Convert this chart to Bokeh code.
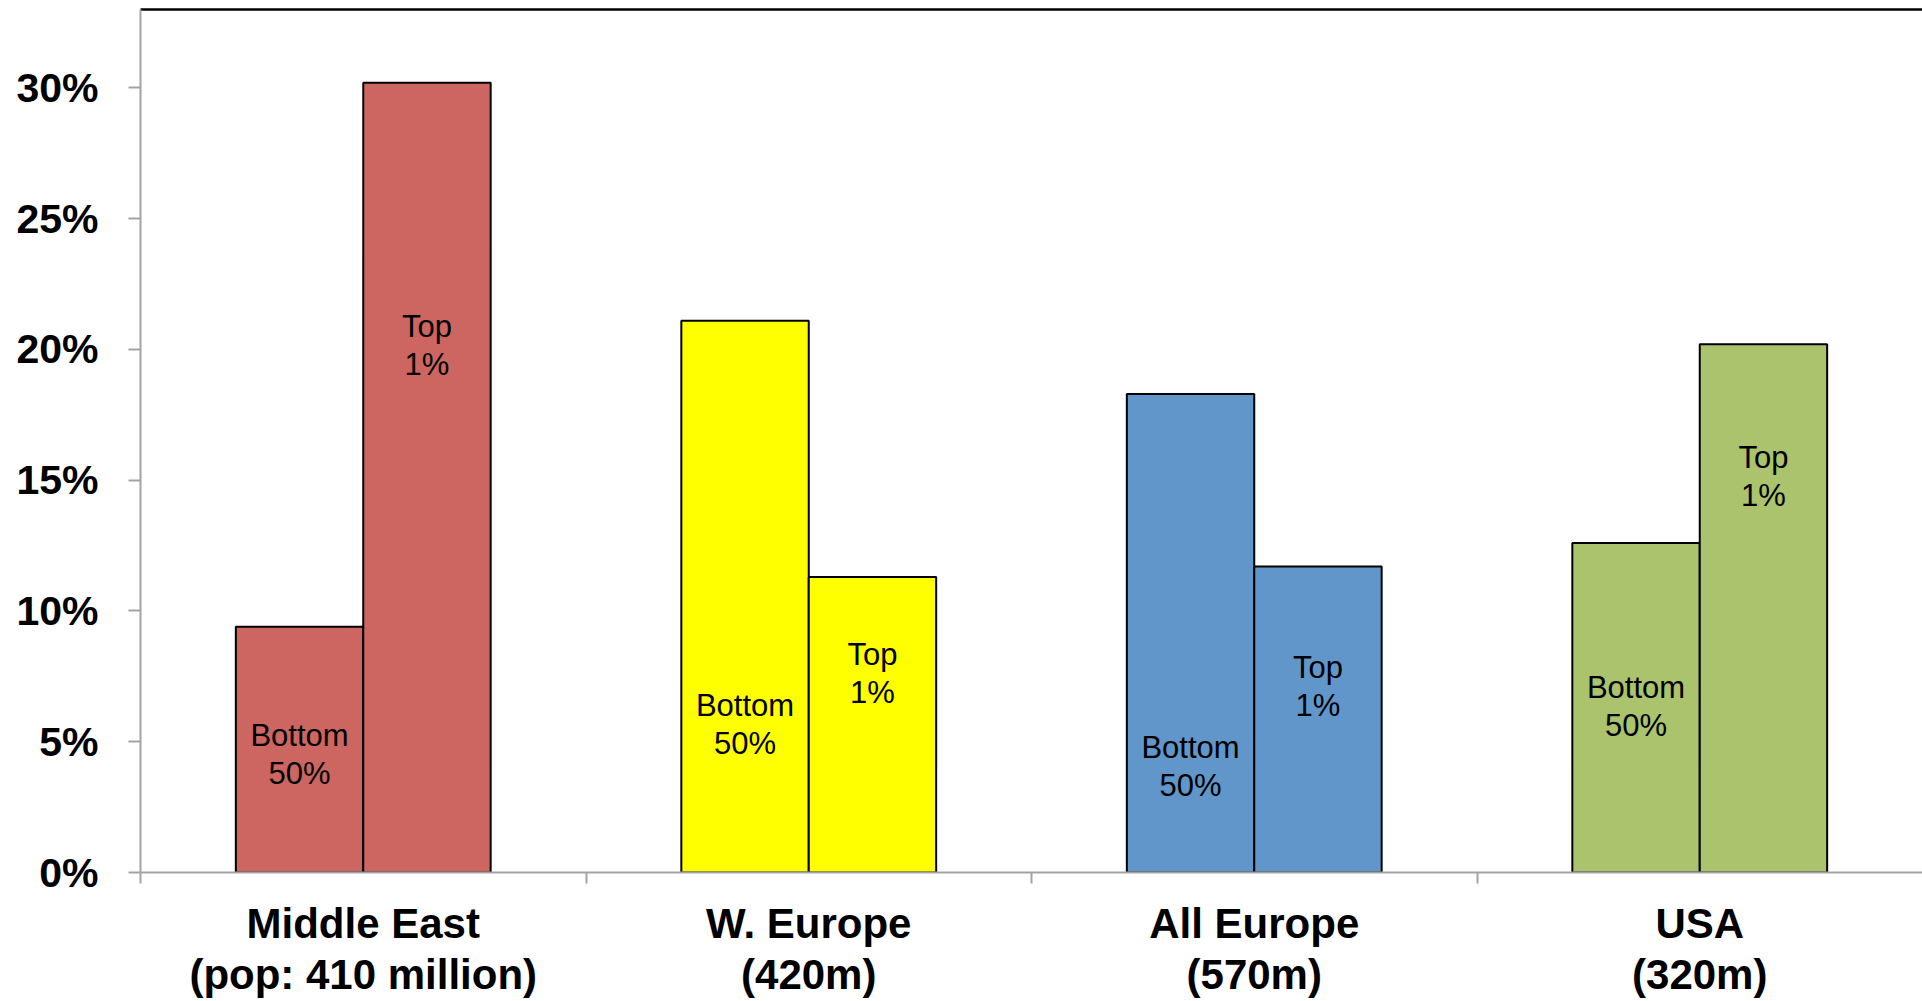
from bokeh.plotting import figure
from bokeh.models import (ColumnDataSource, Range1d, FixedTicker, LinearAxis,
                          PrintfTickFormatter)
from bokeh.core.properties import value
from bokeh.embed import file_html
from bokeh.resources import INLINE

# ---- data ----
regions = ["Middle East", "W. Europe", "All Europe", "USA"]
region_labels = ["Middle East\n(pop: 410 million)", "W. Europe\n(420m)",
                 "All Europe\n(570m)", "USA\n(320m)"]
bottom50_share = [9.4, 21.1, 18.3, 12.6]   # % income share, bottom 50%
top1_share = [30.2, 11.3, 11.7, 20.2]      # % income share, top 1%
region_colors = ["#CD6661", "#FFFF00", "#6096C9", "#AAC36C"]
series_names = ["Bottom\n50%", "Top\n1%"]
bottom50_label_y = [4.5, 5.65, 4.05, 6.35]
top1_label_y = [20.15, 7.6, 7.1, 15.15]
y_ticks = [0, 5, 10, 15, 20, 25, 30]

# ---- layout constants ----
BAR_W = 0.286
FONT = "Liberation Sans"
GRAY = "#A3A3A3"

idx = list(range(len(regions)))
x_bottom = [i + 0.5 - BAR_W / 2 for i in idx]
x_top = [i + 0.5 + BAR_W / 2 for i in idx]

src_b = ColumnDataSource(dict(x=x_bottom, top=bottom50_share, color=region_colors,
                              ly=bottom50_label_y, txt=[series_names[0]] * len(idx)))
src_t = ColumnDataSource(dict(x=x_top, top=top1_share, color=region_colors,
                              ly=top1_label_y, txt=[series_names[1]] * len(idx)))

p = figure(width=1922, height=1001, output_backend="svg", toolbar_location=None,
           x_range=Range1d(0, 4.0), y_range=Range1d(0, 33.0),
           min_border_left=140, min_border_right=0, min_border_top=9,
           min_border_bottom=128, x_axis_type=None, y_axis_type=None)
p.outline_line_color = None
p.background_fill_color = "white"
p.border_fill_color = "white"

for src in (src_b, src_t):
    p.vbar(x="x", top="top", bottom=0, width=BAR_W, source=src,
           fill_color="color", line_color="black", line_width=2)
    p.text(x="x", y="ly", text="txt", source=src, text_align="center",
           text_baseline="middle", text_font=value(FONT), text_font_size="31px",
           text_line_height=1.08, text_color="black")

# y axis
yax = LinearAxis(ticker=FixedTicker(ticks=y_ticks, minor_ticks=[]),
                 formatter=PrintfTickFormatter(format="%d%%"))
yax.axis_line_color = GRAY
yax.axis_line_width = 2
yax.major_tick_line_color = GRAY
yax.major_tick_line_width = 2
yax.major_tick_out = 12
yax.major_tick_in = 0
yax.minor_tick_line_color = None
yax.major_label_standoff = 30
yax.major_label_text_font = FONT
yax.major_label_text_font_style = "bold"
yax.major_label_text_font_size = "41px"
yax.major_label_text_color = "black"
p.add_layout(yax, "left")

# x axis: labels at category centres, tick marks at category boundaries
xax = LinearAxis(ticker=FixedTicker(ticks=[i + 0.5 for i in idx],
                                    minor_ticks=[float(i) for i in idx]))
xax.major_label_overrides = {i + 0.5: region_labels[i] for i in idx}
xax.axis_line_color = GRAY
xax.axis_line_width = 2
xax.major_tick_line_color = None
xax.major_tick_out = 0
xax.major_tick_in = 0
xax.minor_tick_line_color = GRAY
xax.minor_tick_line_width = 2
xax.minor_tick_out = 11
xax.minor_tick_in = 0
xax.major_label_standoff = 16
xax.major_label_text_font = FONT
xax.major_label_text_font_style = "bold"
xax.major_label_text_font_size = "42px"
xax.major_label_text_line_height = 1.1
xax.major_label_text_color = "black"
p.add_layout(xax, "below")

# top frame line
tax = LinearAxis(ticker=FixedTicker(ticks=[], minor_ticks=[]))
tax.axis_line_color = "black"
tax.axis_line_width = 2.5
tax.major_tick_out = 0
tax.major_tick_in = 0
tax.minor_tick_out = 0
tax.minor_tick_in = 0
tax.major_label_standoff = 0
tax.major_label_text_font_size = "0px"
p.add_layout(tax, "above")

p.ygrid.grid_line_color = GRAY
p.ygrid.grid_line_width = 2
p.ygrid.ticker = FixedTicker(ticks=y_ticks)
p.xgrid.grid_line_color = None

open("out.html", "w").write(file_html(p, INLINE))
